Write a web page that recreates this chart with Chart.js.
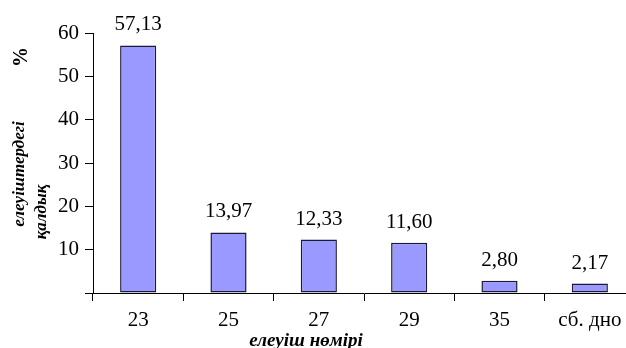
<!DOCTYPE html>
<html>
<head>
<meta charset="utf-8">
<script src="https://cdn.jsdelivr.net/npm/chart.js@4"></script>
<style>
  html, body { margin: 0; padding: 0; background: #fff; overflow: hidden; width: 626px; height: 348px; }
  #wrap { width: 640px; height: 348px; }
</style>
</head>
<body>
<div id="wrap"><canvas id="c" width="640" height="348"></canvas></div>
<script>
// Sieve numbers and residue share on each sieve, %
const sieves = ['23', '25', '27', '29', '35', 'сб. дно'];
const residue = [57.13, 13.97, 12.33, 11.60, 2.80, 2.17];
const yTicks = [0, 10, 20, 30, 40, 50, 60];

const xTitle = 'елеуіш нөмірі';
const yTitleLines = ['елеуіштердегі', 'қалдық'];
const yUnit = '%';

const SERIF = '"Liberation Serif", "Times New Roman", serif';

const fmt = v => v.toFixed(2).replace('.', ',');

const valueLabels = {
  id: 'valueLabels',
  afterDatasetsDraw(chart) {
    const ctx = chart.ctx;
    const meta = chart.getDatasetMeta(0);
    ctx.save();
    ctx.font = '21px ' + SERIF;
    ctx.fillStyle = '#000';
    ctx.textAlign = 'center';
    ctx.textBaseline = 'alphabetic';
    meta.data.forEach((bar, i) => {
      ctx.fillText(fmt(residue[i]), bar.x, bar.y - 15);
    });
    ctx.restore();
  }
};

const axisTitles = {
  id: 'axisTitles',
  afterDraw(chart) {
    const ctx = chart.ctx;
    ctx.save();
    ctx.fillStyle = '#000';
    ctx.textAlign = 'center';

    // x axis title
    ctx.font = 'italic bold 19px ' + SERIF;
    ctx.textBaseline = 'alphabetic';
    ctx.fillText(xTitle, 306, 346);

    // rotated y axis title and unit
    ctx.textBaseline = 'middle';
    ctx.save();
    ctx.translate(22, 57);
    ctx.rotate(-Math.PI / 2);
    ctx.font = 'bold 20px ' + SERIF;
    ctx.fillText(yUnit, 0, 0);
    ctx.restore();

    ctx.font = 'italic bold 17px ' + SERIF;
    ctx.save();
    ctx.translate(20, 174);
    ctx.rotate(-Math.PI / 2);
    ctx.fillText(yTitleLines[0], 0, 0);
    ctx.restore();

    ctx.save();
    ctx.translate(42, 212);
    ctx.rotate(-Math.PI / 2);
    ctx.fillText(yTitleLines[1], 0, 0);
    ctx.restore();

    ctx.restore();
  }
};

new Chart(document.getElementById('c'), {
  type: 'bar',
  data: {
    labels: sieves,
    datasets: [{
      data: residue,
      backgroundColor: '#9999ff',
      borderColor: '#1a1a33',
      borderWidth: 1.5,
      borderSkipped: false,
      barPercentage: 0.4,
      categoryPercentage: 1.0
    }]
  },
  options: {
    responsive: false,
    animation: false,
    layout: { padding: { top: 33, right: 5, left: 0, bottom: 0 } },
    plugins: {
      legend: { display: false },
      tooltip: { enabled: false }
    },
    scales: {
      x: {
        offset: true,
        grid: {
          offset: true,
          drawOnChartArea: false,
          drawTicks: true,
          tickLength: 8,
          color: '#000',
          lineWidth: 1
        },
        border: { display: true, color: '#000', width: 1 },
        ticks: {
          color: '#000',
          font: { family: SERIF, size: 21 },
          padding: 7,
          maxRotation: 0,
          autoSkip: false
        },
        afterFit(scale) { scale.height = 55; }
      },
      y: {
        min: yTicks[0],
        max: yTicks[yTicks.length - 1],
        afterBuildTicks(scale) { scale.ticks = yTicks.map(v => ({ value: v })); },
        grid: {
          drawOnChartArea: false,
          drawTicks: true,
          tickLength: 8,
          color: '#000',
          lineWidth: 1
        },
        border: { display: true, color: '#000', width: 1 },
        ticks: {
          color: '#000',
          font: { family: SERIF, size: 21 },
          padding: 6,
          callback: v => (v === 0 ? '' : String(v))
        },
        afterFit(scale) { scale.width = 93; }
      }
    }
  },
  plugins: [valueLabels, axisTitles]
});
</script>
</body>
</html>
